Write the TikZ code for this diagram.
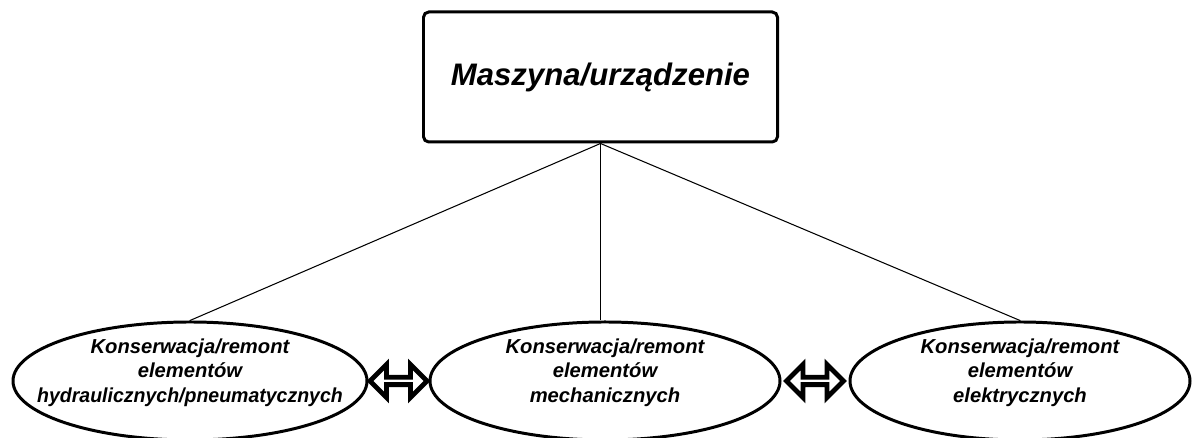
\documentclass[tikz,border=0pt]{standalone}
\usepackage{fontspec}
\setmainfont{Liberation Sans}
\usetikzlibrary{shapes.geometric,shapes.arrows,positioning}

\begin{document}
\begin{tikzpicture}[align=center,node distance=8.3cm]
\tikzstyle{maszyna}=[draw=black,line width=1.7pt,rounded corners=3pt,minimum width=7.08cm,minimum height=2.6cm,font=\fontsize{17.7}{21}\selectfont\bfseries\itshape]
\tikzstyle{obszar}=[ellipse,draw=black,line width=1.7pt,minimum width=7.0cm,minimum height=2.36cm,inner sep=0pt]
\tikzstyle{opis}=[font=\fontsize{11.5}{14}\selectfont\bfseries\itshape,align=center,yshift=0.17cm]
\tikzstyle{galaz}=[-,line width=0.6pt]
\tikzstyle{wymiana}=[double arrow,draw=black,fill=white,line width=2.8pt,inner sep=0pt,minimum height=1.14cm,minimum width=0.66cm,double arrow head extend=0.17cm]

\useasboundingbox (0,0) rectangle (23.84,8.76);

\node[maszyna] (maszyna) at (12.01,7.22) {Maszyna/urządzenie};

\node[obszar,minimum width=7.08cm] (hydr) at (3.8,1.14)
  {} node[opis] (hydrtekst) at (hydr.center) {Konserwacja/remont\\elementów\\\scalebox{0.965}[1]{hydraulicznych/pneumatycznych}};
\node[obszar,minimum width=7.0cm] (mech) [right of = hydr]
  {} node[opis] (mechtekst) at (mech.center) {Konserwacja/remont\\elementów\\mechanicznych};
\node[obszar,minimum width=6.8cm] (elek) [right of = mech]
  {} node[opis] (elektekst) at (elek.center) {Konserwacja/remont\\elementów\\elektrycznych};

\path
  (maszyna.south) edge [galaz] (hydr.north)
  (maszyna.south) edge [galaz] (maszyna.south |- mech.north)
  (maszyna.south) edge [galaz] (elek.north);

\path
  (hydr.east) -- node[wymiana] (wymiana1) {} (mech.west)
  (mech.east) -- node[wymiana] (wymiana2) {} (elek.west);
\end{tikzpicture}
\end{document}
